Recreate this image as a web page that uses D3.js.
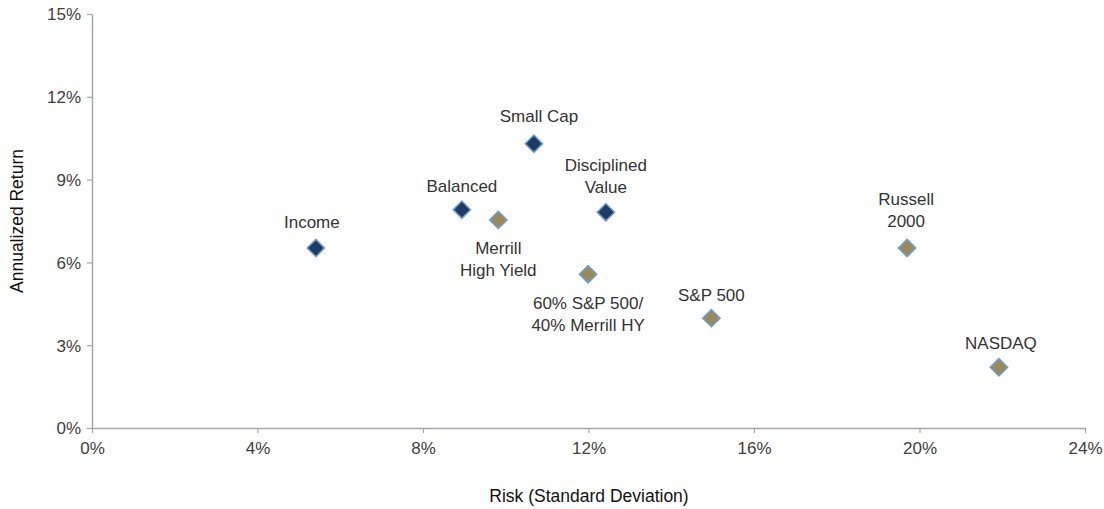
<!DOCTYPE html>
<html><head><meta charset="utf-8">
<script src="https://cdn.jsdelivr.net/npm/d3@7"></script>
<style>
body{margin:0;background:#fff;}
svg text{font-family:"Liberation Sans",Arial,sans-serif;}
</style></head>
<body><svg id="c" width="1104" height="509"></svg>
<script>
const names = ["Income","Balanced","Merrill\nHigh Yield","Small Cap","Disciplined\nValue","60% S&P 500/\n40% Merrill HY","S&P 500","Russell\n2000","NASDAQ"];
const risk = [5.41, 8.94, 9.82, 10.68, 12.42, 11.99, 14.97, 19.70, 21.92];
const ret = [6.52, 7.91, 7.54, 10.30, 7.82, 5.57, 3.98, 6.52, 2.20];
const group = ["fund","fund","index","fund","fund","index","index","index","index"];
const xTicks = [0,4,8,12,16,20,24];
const yTicks = [0,3,6,9,12,15];

// label placement (px offsets from marker, not data)
const labelDx = [-4,0,0,5,0,0,0,-1,2];
const labelDy = [-20,-18,34,-22,-41,35,-17,-43,-18];

const svg = d3.select("#c");
const m = {l:92, r:20, t:14, b:81};
const x = d3.scaleLinear().domain([0,24]).range([m.l, 1085]);
const y = d3.scaleLinear().domain([0,15]).range([428, m.t]);

const axisColor = "#a6a6a6";
const gx = svg.append("g").attr("transform","translate(0,428)")
  .call(d3.axisBottom(x).tickValues(xTicks).tickFormat(d=>d+"%").tickSize(5).tickSizeOuter(0));
const gy = svg.append("g").attr("transform",`translate(${m.l},0)`)
  .call(d3.axisLeft(y).tickValues(yTicks).tickFormat(d=>d+"%").tickSize(5).tickSizeOuter(0));
[gx,gy].forEach(g=>{
  g.select(".domain").attr("stroke",axisColor).attr("stroke-width",1.5);
  g.selectAll(".tick line").attr("stroke",axisColor).attr("stroke-width",1.2);
  g.selectAll(".tick text").attr("fill","#404040").style("font-size","17px").style("font-family","'Liberation Sans',Arial,sans-serif");
});
gx.selectAll(".tick text").attr("dy","1.05em").attr("y",8);
gy.selectAll(".tick text").attr("x",-11).attr("dy","0.35em");

svg.append("text").attr("x",589).attr("y",502).attr("text-anchor","middle")
  .style("font-family","'Liberation Sans Narrow','Arial Narrow',Arial,sans-serif").style("font-size","17.5px").attr("fill","#111")
  .text("Risk (Standard Deviation)");
svg.append("text").attr("transform","translate(23,221) rotate(-90)").attr("text-anchor","middle")
  .style("font-family","'Liberation Sans Narrow','Arial Narrow',Arial,sans-serif").style("font-size","17.5px").attr("fill","#111")
  .text("Annualized Return");

const color = {fund:"#1c3c64", index:"#9a8a5a"};
const diamond = d3.symbol().type(d3.symbolSquare).size(150);
const data = names.map((n,i)=>({n, r:risk[i], v:ret[i], g:group[i], dx:labelDx[i], dy:labelDy[i]}));

svg.append("g").selectAll("path").data(data).join("path")
  .attr("d",diamond)
  .attr("transform",d=>`translate(${x(d.r)},${y(d.v)}) rotate(45)`)
  .attr("fill",d=>color[d.g]).attr("stroke","#6b9ed6").attr("stroke-width",1.5);

const lab = svg.append("g").selectAll("text").data(data).join("text")
  .attr("x",d=>x(d.r)+d.dx).attr("y",d=>y(d.v)+d.dy)
  .attr("text-anchor","middle").attr("fill","#333").style("font-size","17px");
lab.each(function(d){
  const t = d3.select(this);
  d.n.split("\n").forEach((line,k)=>{
    t.append("tspan").attr("x",x(d.r)+d.dx).attr("dy",k?22:0).text(line);
  });
});
</script></body></html>
